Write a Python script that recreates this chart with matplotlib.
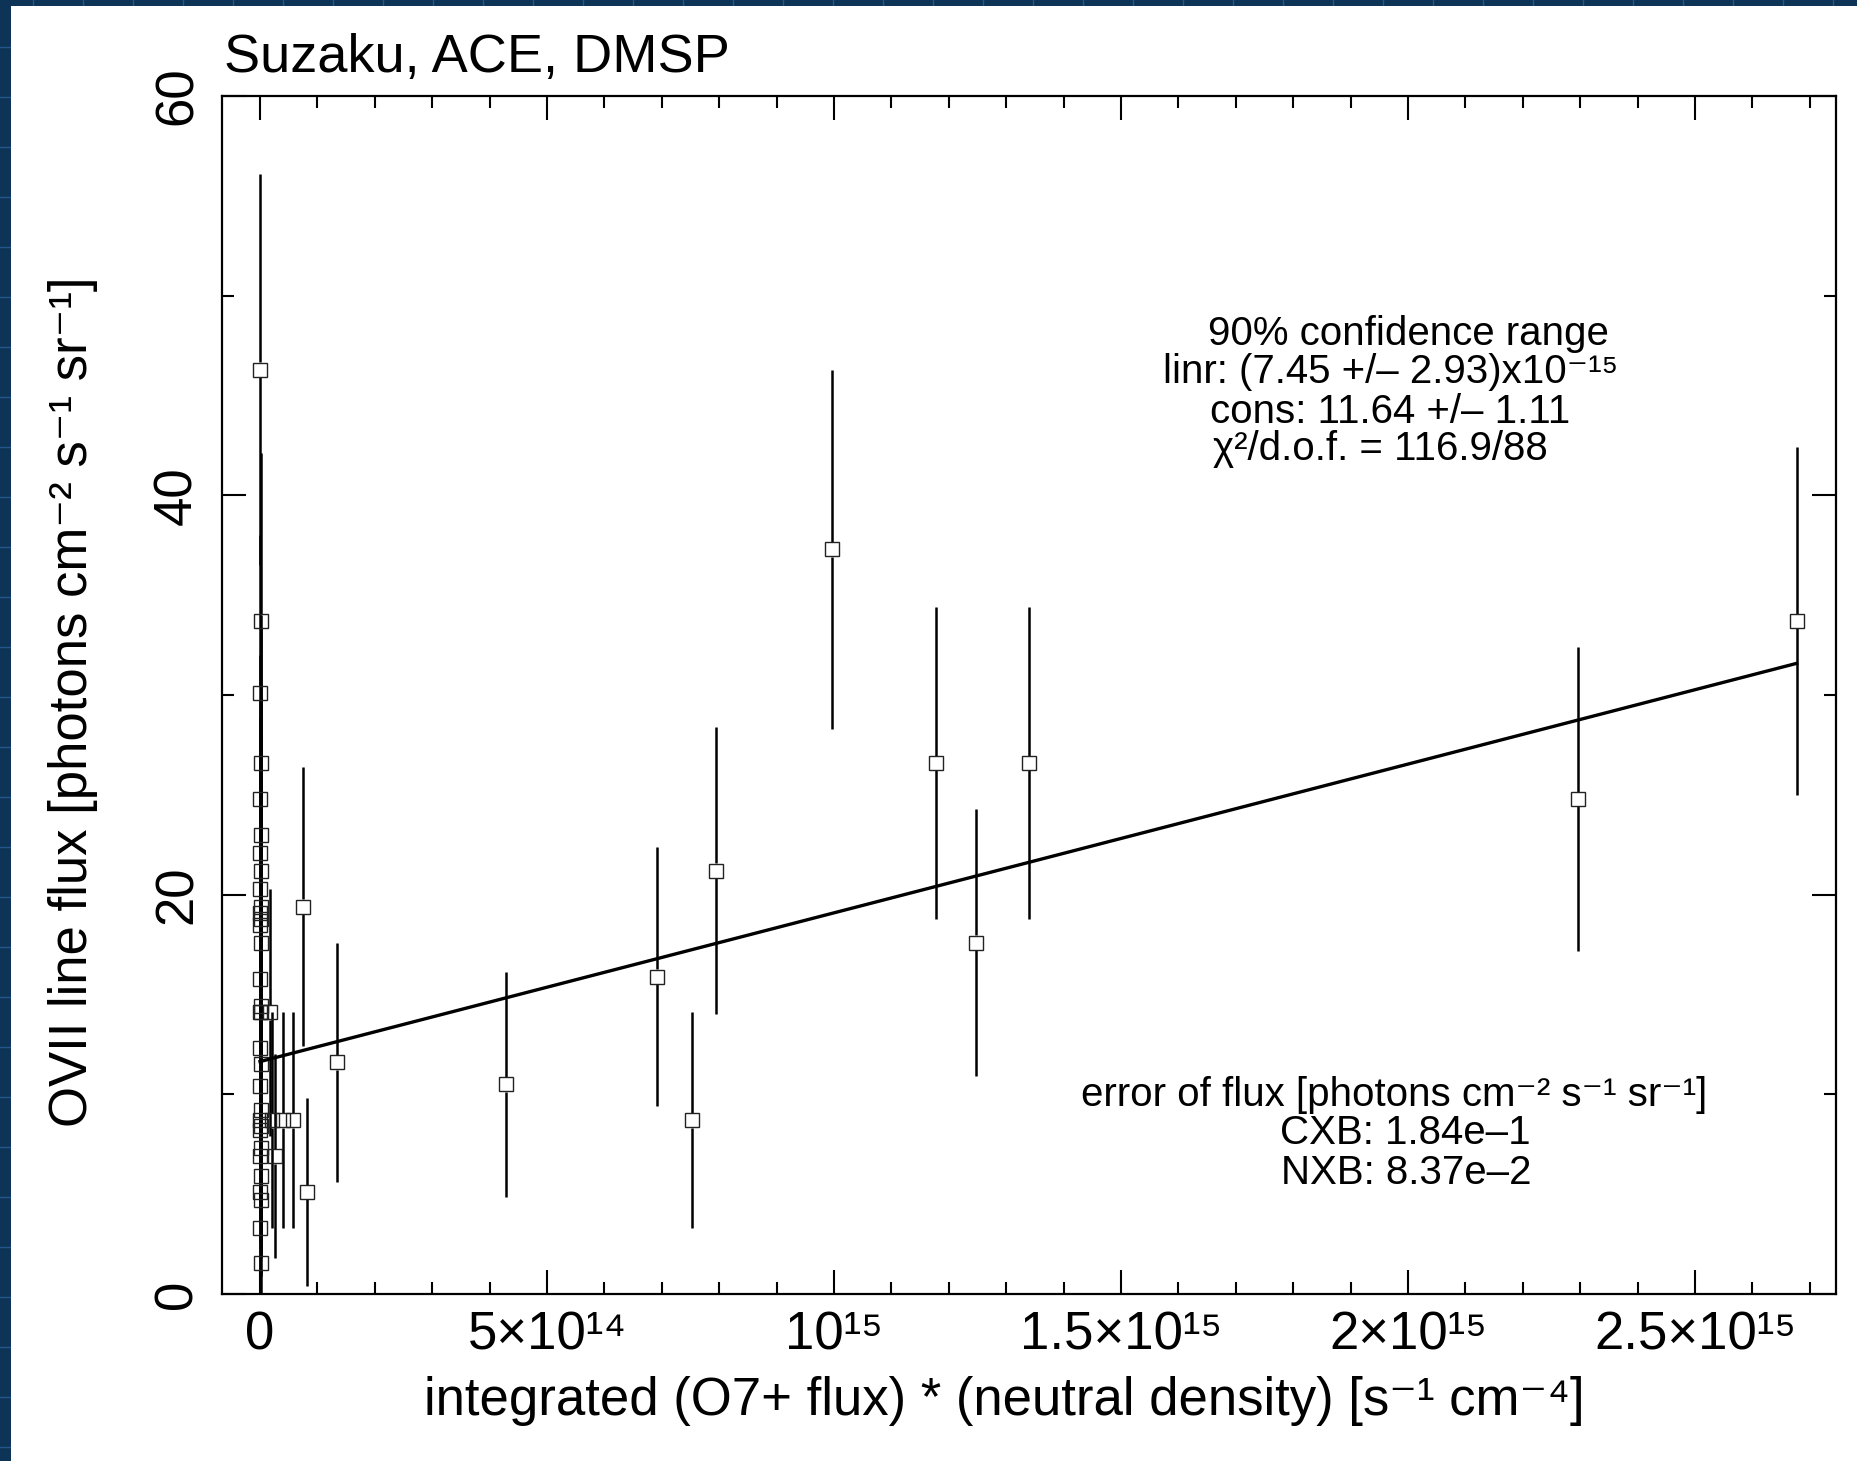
import numpy as np
import matplotlib
matplotlib.use('Agg')
import matplotlib.pyplot as plt
from matplotlib.ticker import MultipleLocator
from matplotlib.patches import Rectangle
from matplotlib.lines import Line2D

plt.rcParams['font.family'] = ['Liberation Sans', 'DejaVu Sans']

# observations with ~zero integrated (O7+ flux)*(neutral density), x in 1e14 s-1 cm-4
zero_x = [0.0, 0.01, 0.0, 0.02, 0.0, 0.01, 0.0, 0.02, 0.0, 0.01, 0.0,
          0.02, 0.0, 0.01, 0.0, 0.02, 0.0, 0.01, 0.0, 0.02, 0.0, 0.01,
          0.0, 0.02, 0.0, 0.01, 0.0, 0.02, 0.0, 0.01, 0.0, 0.02]
zero_flux = [46.3, 33.7, 30.1, 26.6, 24.8, 23.0, 22.1, 21.2, 20.3, 19.4, 19.1,
             18.8, 18.5, 17.6, 15.8, 14.4, 14.1, 14.1, 12.3, 11.5, 10.4, 9.2,
             8.7, 8.4, 8.2, 7.3, 6.9, 5.9, 5.1, 4.7, 3.3, 1.55]
zero_err = [9.8, 8.4, 7.9, 7.4, 7.2, 6.9, 6.8, 6.7, 6.5, 6.4, 6.4,
            6.3, 6.3, 6.1, 5.9, 5.7, 5.6, 5.6, 5.3, 5.2, 5.0, 4.8,
            4.7, 4.7, 4.6, 4.4, 4.3, 4.1, 3.9, 3.8, 3.5, 3.0]

# observations with non-zero integrated value (x in units of 1e14 s-1 cm-4)
swcx_x = [0.174, 0.21, 0.26, 0.40, 0.575, 0.75, 0.82, 1.34, 4.29, 6.91, 7.53,
          7.94, 9.97, 11.78, 12.48, 13.39, 22.96, 26.77]
swcx_flux = [14.1, 8.7, 6.9, 8.7, 8.7, 19.4, 5.1, 11.6, 10.5, 15.9, 8.7,
             21.2, 37.3, 26.6, 17.6, 26.6, 24.8, 33.7]
swcx_err = [6.2, 5.4, 5.1, 5.4, 5.4, 7.0, 4.7, 6.0, 5.65, 6.5, 5.4,
            7.2, 9.0, 7.8, 6.7, 7.8, 7.6, 8.7]

# linear fit result
linr = 7.45e-15
cons = 11.64

x_ticks = [0, 5e14, 1e15, 1.5e15, 2e15, 2.5e15]
x_tick_labels = ['0', '5×10¹⁴', '10¹⁵', '1.5×10¹⁵', '2×10¹⁵', '2.5×10¹⁵']
y_ticks = [0, 20, 40, 60]

x = np.array(zero_x + swcx_x) * 1e14
y = np.array(zero_flux + swcx_flux)
err = np.array(zero_err + swcx_err)

W, H = 1858, 1461
fig = plt.figure(figsize=(W / 100, H / 100), dpi=100, facecolor='#0d3457')

# slide background: blue with faint grid, white panel
for gx in range(33, W, 50):
    fig.add_artist(Line2D([gx / W, gx / W], [0, 1], color='#24568a', lw=1.0, zorder=-2))
for gy in range(47, H, 50):
    fig.add_artist(Line2D([0, 1], [1 - gy / H, 1 - gy / H], color='#24568a', lw=1.0, zorder=-2))
fig.add_artist(Rectangle((11 / W, 0), 1 - 11 / W, 1 - 6 / H, transform=fig.transFigure,
                         facecolor='white', edgecolor='none', zorder=-1))

ax = fig.add_axes([222 / W, 1 - 1294 / H, 1614 / W, 1198 / H])
ax.set_xlim(-6.62e13, 2.7456e15)
ax.set_ylim(0, 60)

# error bars stop at the square's edge, squares are open
ms = 10.5
gap = (ms / 2 * fig.dpi / 72) / ax.bbox.height * 60
ax.vlines(x, y + gap, y + err, color='black', lw=1.8)
ax.vlines(x, y - err, y - gap, color='black', lw=1.8)
ax.plot(x, y, 's', ms=ms, mfc='none', mec='#222222', mew=1.0, ls='none')

xf = np.array([x.min(), x.max()])
ax.plot(xf, cons + linr * xf, color='black', lw=2.4)

for s in ax.spines.values():
    s.set_linewidth(1.6)

ax.set_xticks(x_ticks, x_tick_labels)
ax.xaxis.set_minor_locator(MultipleLocator(1e14))
ax.set_yticks(y_ticks, [str(v) for v in y_ticks])
ax.yaxis.set_minor_locator(MultipleLocator(10))
ax.tick_params(which='both', direction='in', top=True, right=True, width=1.5)
ax.tick_params(which='major', length=17, labelsize=38)
ax.tick_params(which='minor', length=8.5)
ax.tick_params(axis='x', pad=12)
ax.tick_params(axis='y', pad=14)
for lab in ax.get_yticklabels():
    lab.set_rotation(90)
    lab.set_va('center')

fig.text(224 / W, 1 - 72 / H, 'Suzaku, ACE, DMSP', fontsize=39, va='baseline')
fig.text(1004 / W, 1 - 1401 / H,
         'integrated (O7+ flux) * (neutral density) [s⁻¹ cm⁻⁴]',
         fontsize=38, ha='center', va='center')
fig.text(73 / W, 1 - 702 / H, 'OVII line flux [photons cm⁻² s⁻¹ sr⁻¹]',
         fontsize=38, ha='center', va='center', rotation=90)

fs = 29
ax.text(0.735, 0.801, '90% confidence range', transform=ax.transAxes, fontsize=fs,
        ha='center', va='center')
ax.text(0.724, 0.770, 'linr: (7.45 +/– 2.93)x10⁻¹⁵', transform=ax.transAxes,
        fontsize=fs, ha='center', va='center')
ax.text(0.724, 0.736, 'cons: 11.64 +/– 1.11', transform=ax.transAxes, fontsize=fs,
        ha='center', va='center')
ax.text(0.7175, 0.705, 'χ²/d.o.f. = 116.9/88', transform=ax.transAxes, fontsize=fs,
        ha='center', va='center')
ax.text(0.726, 0.166, 'error of flux [photons cm⁻² s⁻¹ sr⁻¹]',
        transform=ax.transAxes, fontsize=fs, ha='center', va='center')
ax.text(0.733, 0.134, 'CXB: 1.84e–1', transform=ax.transAxes, fontsize=fs,
        ha='center', va='center')
ax.text(0.734, 0.101, 'NXB: 8.37e–2', transform=ax.transAxes, fontsize=fs,
        ha='center', va='center')

fig.savefig('out.png', dpi=100, facecolor=fig.get_facecolor())
